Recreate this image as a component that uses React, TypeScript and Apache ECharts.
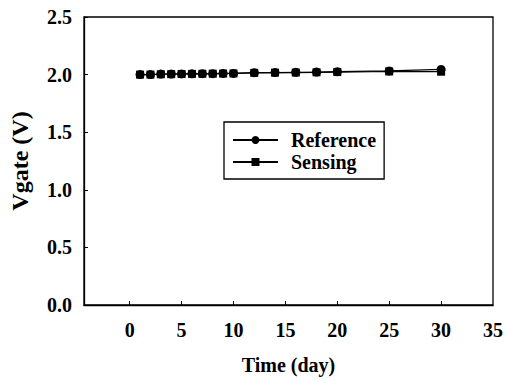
import React, { useEffect, useRef } from "react";
import * as echarts from "echarts";

const days = [1, 2, 3, 4, 5, 6, 7, 8, 9, 10, 12, 14, 16, 18, 20, 25, 30];
const reference = [2.0, 2.0, 2.005, 2.005, 2.006, 2.007, 2.008, 2.008, 2.01, 2.01, 2.017, 2.018, 2.02, 2.022, 2.025, 2.032, 2.045];
const sensing = [2.0, 2.0, 2.003, 2.004, 2.005, 2.006, 2.007, 2.008, 2.009, 2.01, 2.015, 2.017, 2.018, 2.02, 2.022, 2.027, 2.025];
const xTicks = [0, 5, 10, 15, 20, 25, 30];
const xLabels = [0, 5, 10, 15, 20, 25, 30, 35];

const FONT = "'Liberation Serif', 'Times New Roman', serif";

export default function App() {
  const ref = useRef<HTMLDivElement>(null);
  useEffect(() => {
    if (!ref.current) return;
    const chart = echarts.init(ref.current, undefined, { renderer: "svg" });
    chart.setOption({
      animation: false,
      backgroundColor: "#fff",
      grid: {
        left: 80,
        right: 11,
        top: 17,
        bottom: 74,
        show: true,
        borderColor: "#000",
        borderWidth: 1.3,
      },
      legend: {
        orient: "vertical",
        left: 224,
        top: 122,
        width: 160,
        padding: [8, 8, 7, 8],
        itemGap: 2,
        itemWidth: 45,
        itemHeight: 10,
        borderColor: "#000",
        borderWidth: 1.3,
        textStyle: { fontFamily: FONT, fontWeight: "bold", fontSize: 20, color: "#000", padding: [0, 0, 0, 8] },
        data: ["Reference", "Sensing"],
      },
      xAxis: {
        type: "value",
        min: -4.4,
        max: 35,
        name: "Time (day)",
        nameLocation: "middle",
        nameGap: 50,
        nameTextStyle: { fontFamily: FONT, fontWeight: "bold", fontSize: 20, color: "#000" },
        axisLine: { show: true, onZero: false, lineStyle: { color: "#000", width: 1.3 } },
        axisTick: { show: true, inside: true, length: 4, lineStyle: { color: "#000" }, customValues: xTicks },
        axisLabel: {
          customValues: xLabels,
          fontFamily: FONT,
          fontWeight: "bold",
          fontSize: 20,
          color: "#000",
          margin: 15,
        },
        splitLine: { show: false },
      },
      yAxis: {
        type: "value",
        min: 0,
        max: 2.5,
        interval: 0.5,
        name: "Vgate (V)",
        nameLocation: "middle",
        nameGap: 52,
        nameTextStyle: { fontFamily: FONT, fontWeight: "bold", fontSize: 24, color: "#000" },
        axisLine: { show: true, onZero: false, lineStyle: { color: "#000", width: 1.3 } },
        axisTick: { show: true, inside: true, length: 4, lineStyle: { color: "#000" } },
        axisLabel: {
          formatter: (v: number) => v.toFixed(1),
          fontFamily: FONT,
          fontWeight: "bold",
          fontSize: 20,
          color: "#000",
          margin: 12,
        },
        splitLine: { show: false },
      },
      series: [
        {
          name: "Sensing",
          type: "line",
          data: days.map((d, i) => [d, sensing[i]]),
          symbol: "rect",
          symbolSize: 8,
          itemStyle: { color: "#000" },
          lineStyle: { color: "#000", width: 1.2 },
          z: 2,
        },
        {
          name: "Reference",
          type: "line",
          data: days.map((d, i) => [d, reference[i]]),
          symbol: "circle",
          symbolSize: 9,
          itemStyle: { color: "#000" },
          lineStyle: { color: "#000", width: 1.2 },
          z: 3,
        },
      ],
    });
    return () => chart.dispose();
  }, []);
  return (
    <div
      ref={ref}
      style={{ position: "fixed", left: 0, top: 0, width: 506, height: 380, background: "#fff" }}
    />
  );
}
